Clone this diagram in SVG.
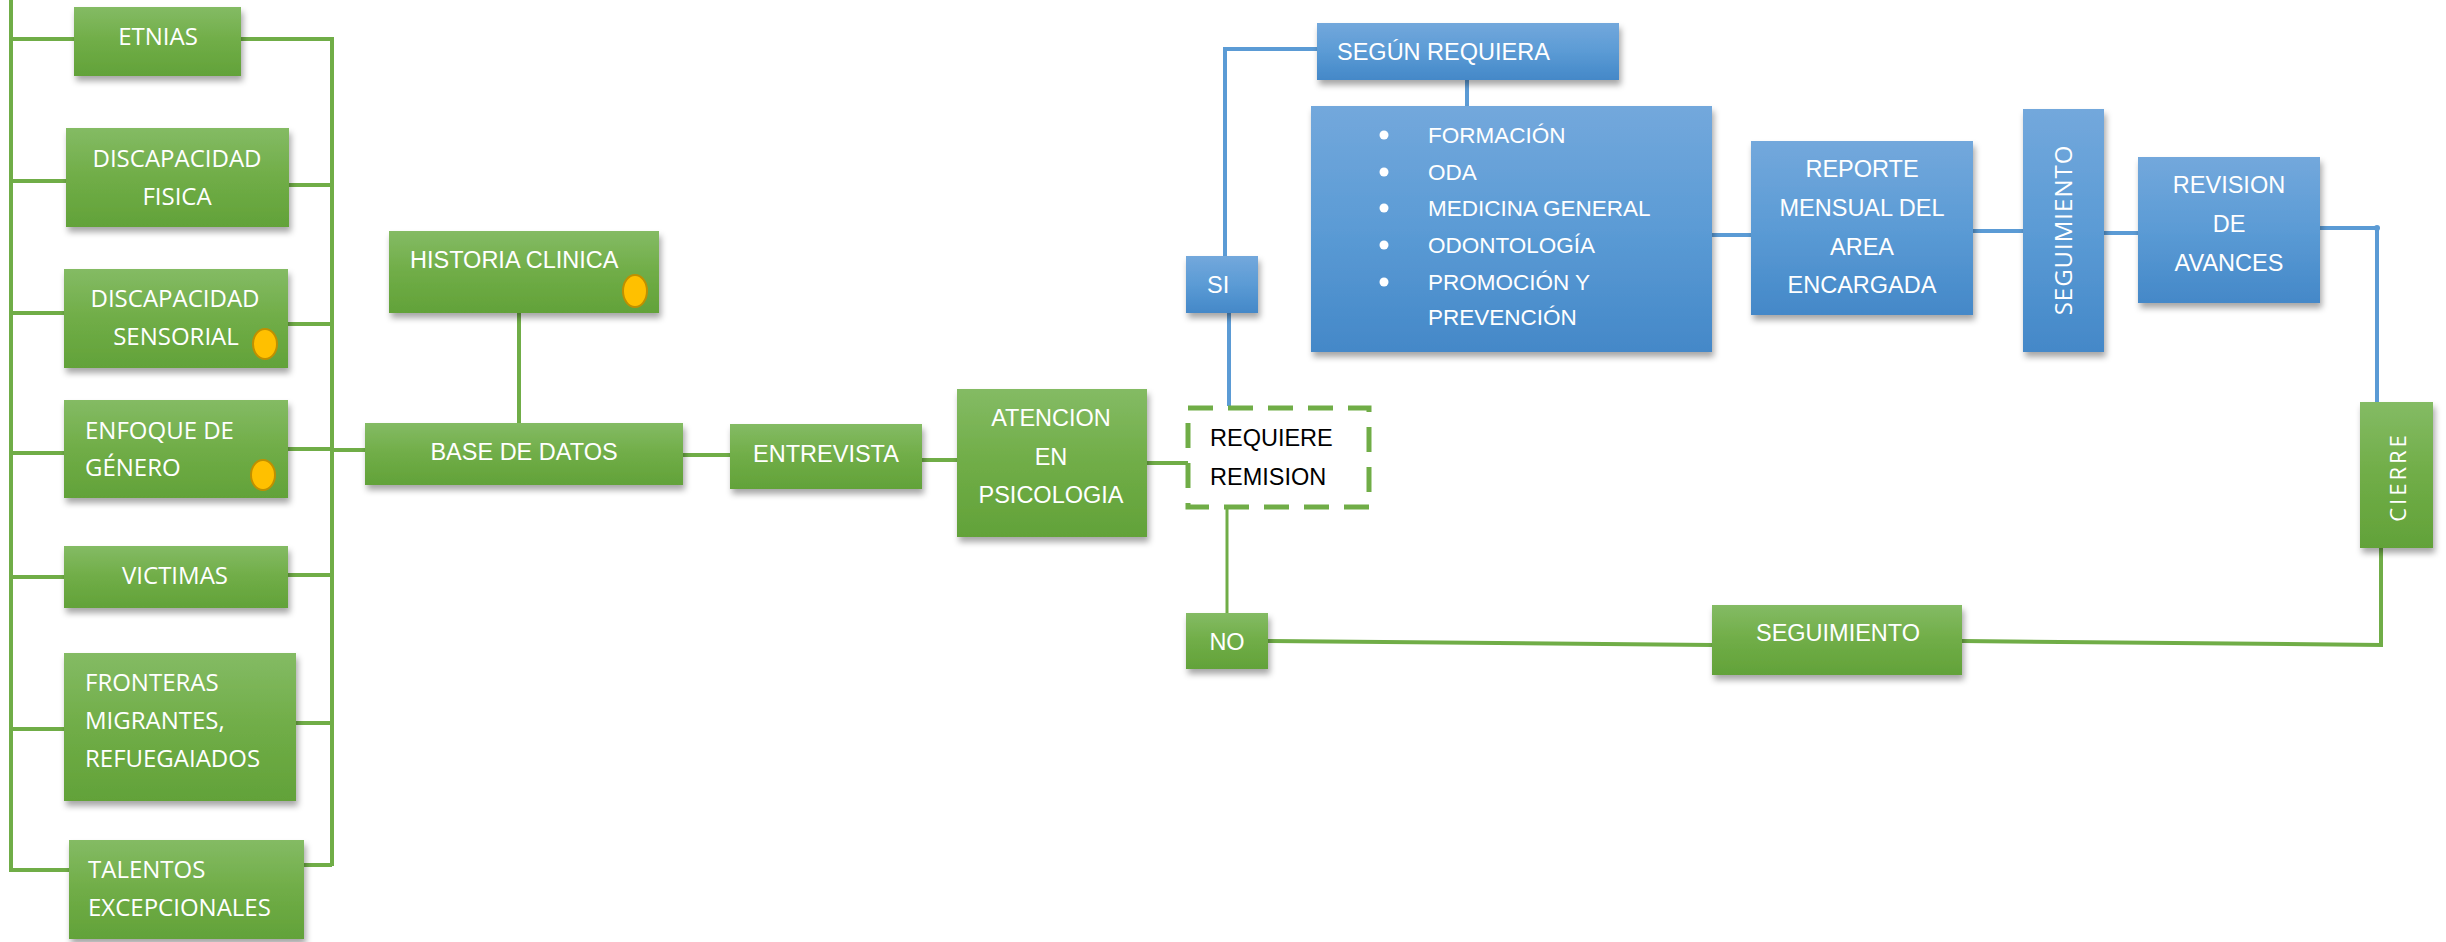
<svg xmlns="http://www.w3.org/2000/svg" width="2446" height="942" viewBox="0 0 2446 942">
<defs>
<linearGradient id="gg" x1="0" y1="0" x2="0" y2="1">
<stop offset="0" stop-color="#84bb64"/><stop offset="0.5" stop-color="#70ad47"/><stop offset="1" stop-color="#62a239"/>
</linearGradient>
<linearGradient id="bg" x1="0" y1="0" x2="0" y2="1">
<stop offset="0" stop-color="#73a8dc"/><stop offset="0.5" stop-color="#5b9bd5"/><stop offset="1" stop-color="#4488c8"/>
</linearGradient>
<filter id="sh" x="-10%" y="-10%" width="125%" height="135%">
<feDropShadow dx="2" dy="5" stdDeviation="3" flood-color="#000" flood-opacity="0.35"/>
</filter>
</defs>
<style>
.g{fill:url(#gg);filter:url(#sh)}
.b{fill:url(#bg);filter:url(#sh)}
.gl{fill:none;stroke:#70ad47;stroke-width:4}
.bl{fill:none;stroke:#5b9bd5;stroke-width:4}
.to{font-family:"Open Sans","Liberation Sans",sans-serif;font-size:24px;fill:#fff}
.tc{font-family:"Liberation Sans",Arial,sans-serif;font-size:23.5px;fill:#fff}
.tl{font-family:"Liberation Sans",Arial,sans-serif;font-size:22.5px;fill:#fff}
.m{text-anchor:middle}
.dot{fill:#ffc000;stroke:#bf9000;stroke-width:2}
</style>
<g id="connectors">
<path class="gl" d="M11,0 V870 H69"/>
<path class="gl" d="M11,39 H74 M11,181 H66 M11,313 H64 M11,453 H64 M11,577 H64 M11,729 H64"/>
<path class="gl" d="M241,39 H332 V866 M289,185 H332 M288,324 H332 M288,449 H332 M288,575 H332 M296,723 H332 M304,865 H332"/>
<path class="gl" d="M332,450 H365"/>
<path class="gl" d="M519,313 V423"/>
<path class="gl" d="M683,455 H730"/>
<path class="gl" d="M922,460 H957"/>
<path class="gl" d="M1147,463 H1188"/>
<path class="gl" d="M1227,509 V613" style="stroke-width:3"/>
<path class="gl" d="M1268,641 L1712,645"/>
<path class="gl" d="M1962,641 L2381,645 V548"/>
<path class="bl" d="M1229,313 V406"/>
<path class="bl" d="M1225,256 V49 H1317"/>
<path class="bl" d="M1467,80 V106"/>
<path class="bl" d="M1712,235 H1751"/>
<path class="bl" d="M1973,231 H2023"/>
<path class="bl" d="M2104,233 H2138"/>
<path class="bl" d="M2320,228 H2377 V402"/>
<circle cx="2377" cy="228" r="3" fill="#5b9bd5"/>
</g>
<g id="etnias"><rect class="g" x="74" y="7" width="167" height="69"/><text class="to m" x="158" y="44.5">ETNIAS</text></g>
<g id="disc-fisica"><rect class="g" x="66" y="128" width="223" height="99"/><text class="to m" x="177" y="166.5">DISCAPACIDAD</text><text class="to m" x="177" y="204.5">FISICA</text></g>
<g id="disc-sensorial"><rect class="g" x="64" y="269" width="224" height="99"/><text class="to m" x="175" y="306.5">DISCAPACIDAD</text><text class="to m" x="176" y="344.5">SENSORIAL</text><ellipse class="dot" cx="265" cy="344" rx="12" ry="15"/></g>
<g id="enfoque"><rect class="g" x="64" y="400" width="224" height="98"/><text class="to" x="85" y="438.5">ENFOQUE DE</text><text class="to" x="85" y="475.5">GÉNERO</text><ellipse class="dot" cx="263" cy="475" rx="12" ry="15"/></g>
<g id="victimas"><rect class="g" x="64" y="546" width="224" height="62"/><text class="to m" x="175" y="583.5">VICTIMAS</text></g>
<g id="fronteras"><rect class="g" x="64" y="653" width="232" height="148"/><text class="to" x="85" y="690.5">FRONTERAS</text><text class="to" x="85" y="728.5">MIGRANTES,</text><text class="to" x="85" y="766.5">REFUEGAIADOS</text></g>
<g id="talentos"><rect class="g" x="69" y="840" width="235" height="99"/><text class="to" x="88" y="877.5">TALENTOS</text><text class="to" x="88" y="915.5">EXCEPCIONALES</text></g>
<g id="historia"><rect class="g" x="389" y="231" width="270" height="82"/><text class="tc" x="410" y="268">HISTORIA CLINICA</text><ellipse class="dot" cx="635" cy="291" rx="12" ry="16"/></g>
<g id="base"><rect class="g" x="365" y="423" width="318" height="62"/><text class="tc m" x="524" y="460">BASE DE DATOS</text></g>
<g id="entrevista"><rect class="g" x="730" y="424" width="192" height="65"/><text class="tc m" x="826" y="462">ENTREVISTA</text></g>
<g id="atencion"><rect class="g" x="957" y="389" width="190" height="148"/><text class="tc m" x="1051" y="426">ATENCION</text><text class="tc m" x="1051" y="465">EN</text><text class="tc m" x="1051" y="503">PSICOLOGIA</text></g>
<g id="requiere"><rect x="1188" y="408" width="181" height="99" fill="#fff" stroke="#70ad47" stroke-width="5" stroke-dasharray="25 15"/><text class="tc" style="fill:#000" x="1210" y="446">REQUIERE</text><text class="tc" style="fill:#000" x="1210" y="485">REMISION</text></g>
<g id="si"><rect class="b" x="1186" y="256" width="72" height="57"/><text class="tc" x="1207" y="293">SI</text></g>
<g id="no"><rect class="g" x="1186" y="613" width="82" height="56"/><text class="tc m" x="1227" y="650">NO</text></g>
<g id="seguimiento-no"><rect class="g" x="1712" y="605" width="250" height="70"/><text class="tc m" x="1838" y="641">SEGUIMIENTO</text></g>
<g id="segun"><rect class="b" x="1317" y="23" width="302" height="57"/><text class="tc" x="1337" y="60">SEGÚN REQUIERA</text></g>
<g id="lista"><rect class="b" x="1311" y="106" width="401" height="246"/>
<circle cx="1384" cy="135" r="4.5" fill="#fff"/><circle cx="1384" cy="172" r="4.5" fill="#fff"/><circle cx="1384" cy="208" r="4.5" fill="#fff"/><circle cx="1384" cy="245" r="4.5" fill="#fff"/><circle cx="1384" cy="282" r="4.5" fill="#fff"/>
<text class="tl" x="1428" y="143">FORMACIÓN</text><text class="tl" x="1428" y="180">ODA</text><text class="tl" x="1428" y="216">MEDICINA GENERAL</text><text class="tl" x="1428" y="253">ODONTOLOGÍA</text><text class="tl" x="1428" y="290">PROMOCIÓN Y</text><text class="tl" x="1428" y="325">PREVENCIÓN</text></g>
<g id="reporte"><rect class="b" x="1751" y="141" width="222" height="174"/><text class="tc m" x="1862" y="177">REPORTE</text><text class="tc m" x="1862" y="216">MENSUAL DEL</text><text class="tc m" x="1862" y="255">AREA</text><text class="tc m" x="1862" y="293">ENCARGADA</text></g>
<g id="seguimiento-v"><rect class="b" x="2023" y="109" width="81" height="243"/><text class="to m" style="letter-spacing:1px" transform="translate(2072,230) rotate(-90)">SEGUIMIENTO</text></g>
<g id="revision"><rect class="b" x="2138" y="157" width="182" height="146"/><text class="tc m" x="2229" y="193">REVISION</text><text class="tc m" x="2229" y="232">DE</text><text class="tc m" x="2229" y="271">AVANCES</text></g>
<g id="cierre"><rect class="g" x="2360" y="402" width="73" height="146"/><text class="to m" style="font-size:22px;letter-spacing:3px" transform="translate(2406,477) rotate(-90)">CIERRE</text></g>
</svg>
